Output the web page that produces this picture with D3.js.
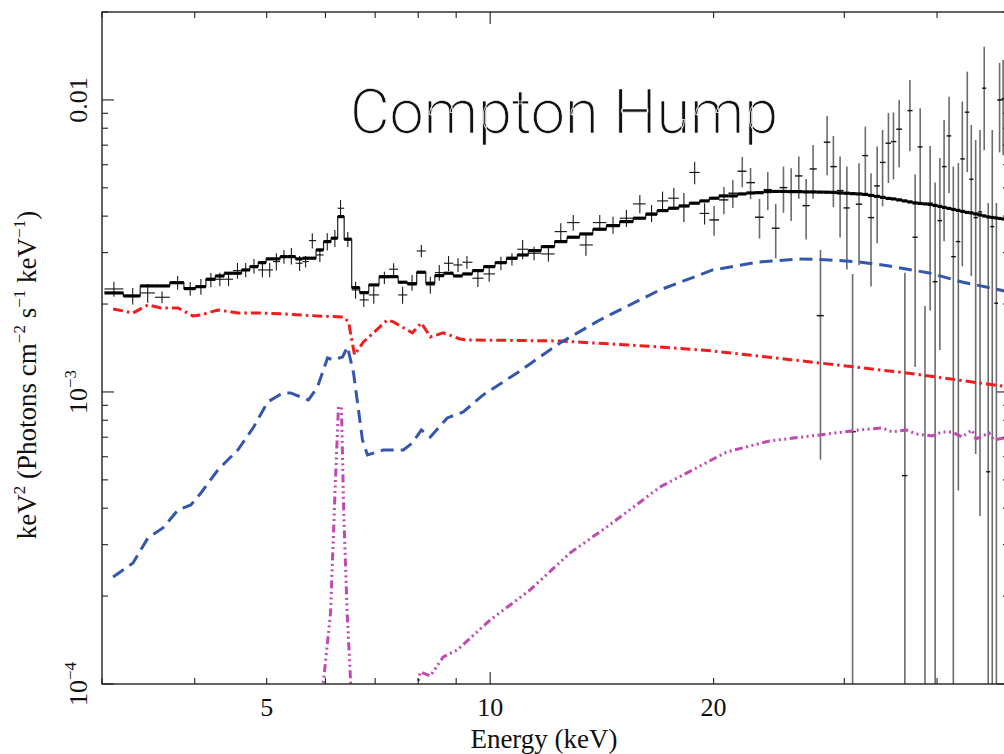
<!DOCTYPE html>
<html>
<head>
<meta charset="utf-8">
<script src="https://cdn.jsdelivr.net/npm/d3@7"></script>
<style>
  body { margin: 0; background: #fff; }
  svg { display: block; }
</style>
</head>
<body>
<svg id="chart" width="1004" height="754"></svg>
<script>
// ---- Spectrum data: bin centre energy (keV), E^2 F(E) flux with 1-sigma error, folded model ----
const dataEnergy = [
  3.113,3.300,3.457,3.614,3.793,3.944,4.077,4.205,4.324,4.442,
  4.567,4.685,4.807,4.934,5.047,5.152,5.275,5.398,5.538,5.642,
  5.760,5.897,6.033,6.178,6.287,6.431,6.587,6.757,6.970,7.203,
  7.413,7.622,7.849,8.078,8.306,8.540,8.790,9.052,9.305,9.627,
  9.97,10.34,10.70,11.06,11.46,11.98,12.45,12.94,13.46,14.05,
  14.64,15.26,15.91,16.50,17.07,17.68,18.24,18.86,19.45,20.03,
  20.65,21.23,21.86,22.43,23.06,23.66,24.25,24.84,25.44,26.05,
  26.65,27.23,27.86,28.44,29.00,29.61,30.24,30.78,31.40,32.02,
  32.59,33.22,33.78,34.40,34.94,35.56,36.20,36.77,37.37,37.96,
  38.53,39.15,39.76,40.35,40.88,41.52,42.07,42.73,43.26,43.93,
  44.48,45.09,45.70,46.30,46.88,47.47,48.08,48.56,49.10
];
const dataFlux = [
  2.253e-3,2.132e-3,2.183e-3,2.110e-3,2.367e-3,2.259e-3,2.294e-3,2.419e-3,2.432e-3,2.432e-3,
  2.603e-3,2.617e-3,2.701e-3,2.617e-3,2.617e-3,2.794e-3,2.906e-3,2.922e-3,2.759e-3,2.794e-3,
  3.298e-3,2.945e-3,3.272e-3,3.361e-3,4.257e-3,3.334e-3,2.235e-3,2.066e-3,2.149e-3,2.463e-3,
  2.632e-3,2.149e-3,2.367e-3,3.040e-3,2.325e-3,2.562e-3,2.759e-3,2.722e-3,2.781e-3,2.452e-3,
  2.536e-3,2.759e-3,2.848e-3,3.081e-3,2.985e-3,2.969e-3,3.540e-3,3.801e-3,3.187e-3,3.801e-3,
  3.732e-3,3.935e-3,4.405e-3,4.093e-3,4.510e-3,4.607e-3,4.311e-3,5.645e-3,4.087e-3,3.882e-3,
  4.546e-3,4.791e-3,5.699e-3,5.210e-3,3.966e-3,4.930e-3,3.636e-3,5.008e-3,4.841e-3,5.492e-3,
  4.345e-3,5.802e-3,1.825e-3,7.165e-3,5.910e-3,4.892e-3,4.267e-3,0.731e-3,4.394e-3,6.445e-3,
  3.954e-3,5.076e-3,6.109e-3,7.109e-3,7.200e-3,7.938e-3,0.517e-3,9.191e-3,3.387e-3,6.904e-3,
  0.050e-3,4.429e-3,2.386e-3,3.861e-3,5.910e-3,7.530e-3,2.906e-3,3.272e-3,6.280e-3,9.077e-3,
  5.351e-3,3.954e-3,4.135e-3,10.97e-3,0.533e-3,3.683e-3,2.013e-3,10.00e-3,10.08e-3
];
const dataError = [
  0.133e-3,0.139e-3,0.161e-3,0.096e-3,0.129e-3,0.122e-3,0.144e-3,0.137e-3,0.130e-3,0.130e-3,
  0.162e-3,0.148e-3,0.154e-3,0.148e-3,0.148e-3,0.191e-3,0.158e-3,0.190e-3,0.163e-3,0.128e-3,
  0.197e-3,0.160e-3,0.223e-3,0.226e-3,0.289e-3,0.197e-3,0.151e-3,0.112e-3,0.145e-3,0.119e-3,
  0.127e-3,0.145e-3,0.148e-3,0.147e-3,0.157e-3,0.160e-3,0.163e-3,0.149e-3,0.141e-3,0.165e-3,
  0.150e-3,0.147e-3,0.137e-3,0.235e-3,0.160e-3,0.176e-3,0.242e-3,0.237e-3,0.262e-3,0.237e-3,
  0.252e-3,0.266e-3,0.324e-3,0.276e-3,0.343e-3,0.389e-3,0.491e-3,0.501e-3,0.342e-3,0.453e-3,
  0.490e-3,0.530e-3,0.681e-3,0.639e-3,0.615e-3,0.737e-3,0.769e-3,0.902e-3,0.994e-3,0.903e-3,
  1.019e-3,1.213e-3,1.239e-3,1.649e-3,1.620e-3,1.513e-3,1.643e-3,1.805e-3,1.676e-3,1.657e-3,
  1.656e-3,1.845e-3,1.785e-3,1.917e-3,1.863e-3,2.062e-3,2.045e-3,2.520e-3,2.170e-3,2.464e-3,
  1.921e-3,2.530e-3,2.824e-3,2.469e-3,2.631e-3,2.730e-3,3.004e-3,2.812e-3,3.587e-3,3.420e-3,
  2.859e-3,3.341e-3,3.759e-3,4.250e-3,3.906e-3,4.211e-3,2.426e-3,3.390e-3,3.620e-3
];
const modelFlux = [
  2.183e-3,2.132e-3,2.307e-3,2.307e-3,2.367e-3,2.259e-3,2.294e-3,2.432e-3,2.496e-3,2.550e-3,
  2.550e-3,2.617e-3,2.686e-3,2.772e-3,2.855e-3,2.855e-3,2.906e-3,2.906e-3,2.855e-3,2.871e-3,
  2.871e-3,3.064e-3,3.272e-3,3.361e-3,3.984e-3,3.334e-3,2.276e-3,2.188e-3,2.325e-3,2.482e-3,
  2.482e-3,2.375e-3,2.344e-3,2.570e-3,2.356e-3,2.502e-3,2.550e-3,2.496e-3,2.536e-3,2.603e-3,
  2.686e-3,2.772e-3,2.871e-3,2.945e-3,3.047e-3,3.145e-3,3.272e-3,3.387e-3,3.476e-3,3.607e-3,
  3.711e-3,3.831e-3,3.935e-3,4.061e-3,4.178e-3,4.257e-3,4.335e-3,4.429e-3,4.510e-3,4.607e-3,
  4.691e-3,4.691e-3,4.765e-3,4.802e-3,4.813e-3,4.853e-3,4.860e-3,4.860e-3,4.853e-3,4.853e-3,
  4.841e-3,4.841e-3,4.834e-3,4.830e-3,4.823e-3,4.802e-3,4.791e-3,4.776e-3,4.765e-3,4.746e-3,
  4.709e-3,4.673e-3,4.637e-3,4.600e-3,4.581e-3,4.546e-3,4.510e-3,4.474e-3,4.439e-3,4.421e-3,
  4.405e-3,4.387e-3,4.352e-3,4.318e-3,4.284e-3,4.250e-3,4.217e-3,4.184e-3,4.151e-3,4.119e-3,
  4.102e-3,4.070e-3,4.038e-3,4.006e-3,3.974e-3,3.958e-3,3.943e-3,3.927e-3,3.911e-3
];

// ---- Model components ----
// primary continuum (red, dash-dot)
const continuumEnergy = [3.105,3.303,3.459,3.602,3.797,3.977,4.077,4.297,4.571,4.862,5.270,5.854,6.345,6.445,6.566,6.750,7.271,7.406,7.856,8.078,8.306,8.646,9.113,9.314,12.42,16.93,19.94,27.77,36.35,50];
const continuumFlux = [1.924e-3,1.865e-3,1.986e-3,1.940e-3,1.940e-3,1.821e-3,1.835e-3,1.909e-3,1.865e-3,1.865e-3,1.850e-3,1.821e-3,1.806e-3,1.737e-3,1.339e-3,1.483e-3,1.764e-3,1.737e-3,1.593e-3,1.723e-3,1.543e-3,1.593e-3,1.519e-3,1.507e-3,1.495e-3,1.426e-3,1.382e-3,1.257e-3,1.162e-3,1.040e-3];
// reflection / Compton hump (blue, dashed)
const reflectionEnergy = [3.105,3.303,3.459,3.624,3.797,3.952,4.077,4.297,4.571,4.802,5.015,5.254,5.385,5.692,5.854,6.039,6.152,6.326,6.425,6.546,6.730,6.834,7.181,7.640,7.856,8.078,8.306,8.754,9.199,9.786,10.87,12.42,14.05,16.93,19.94,23.06,26.10,28.64,31.42,34.48,39.02,43.22,50];
const reflectionFlux = [0.2325e-3,0.2597e-3,0.3162e-3,0.3422e-3,0.3943e-3,0.4102e-3,0.4509e-3,0.5405e-3,0.6328e-3,0.7587e-3,0.9242e-3,0.9921e-3,0.9921e-3,0.9389e-3,1.040e-3,1.307e-3,1.287e-3,1.318e-3,1.426e-3,1.162e-3,0.6847e-3,0.6085e-3,0.6328e-3,0.6328e-3,0.6689e-3,0.7411e-3,0.7013e-3,0.8146e-3,0.8542e-3,0.9766e-3,1.162e-3,1.472e-3,1.764e-3,2.235e-3,2.617e-3,2.788e-3,2.855e-3,2.832e-3,2.788e-3,2.701e-3,2.556e-3,2.381e-3,2.200e-3];
// distant reflector with Fe K line (magenta, dash-dot-dot-dot)
const distantEnergy = [5.928,6.095,6.189,6.247,6.305,6.350,6.418,6.505,7.116,7.905,8.053,8.306,8.646,9.031,10.0,11.32,12.81,14.36,16.06,16.93,18.74,20.82,23.79,27.77,31.42,33.74,34.80,36.35,37.49,39.39,40.62,41.89,43.22,44.58,45.13,46.99,47.72,50];
const distantFlux = [0.0882e-3,0.1751e-3,0.4995e-3,0.8884e-3,0.8884e-3,0.3851e-3,0.1751e-3,0.0882e-3,0.0549e-3,0.0882e-3,0.1100e-3,0.1065e-3,0.1238e-3,0.1308e-3,0.1656e-3,0.2099e-3,0.2810e-3,0.3449e-3,0.4267e-3,0.4727e-3,0.5405e-3,0.6230e-3,0.6796e-3,0.7125e-3,0.7411e-3,0.7527e-3,0.7294e-3,0.7411e-3,0.7181e-3,0.7069e-3,0.7294e-3,0.7294e-3,0.7013e-3,0.7411e-3,0.6903e-3,0.7237e-3,0.6847e-3,0.7013e-3];

// ---- Axes ----
const xDomain = [3, 50];
const yDomain = [1e-4, 0.02];
const xTickValues = [3, 4, 5, 6, 7, 8, 9, 10, 20, 30, 40, 50];
const xLabelValues = [5, 10, 20];
const xLabelTexts = ["5", "10", "20"];
const yTickValues = [1e-4,2e-4,3e-4,4e-4,5e-4,6e-4,7e-4,8e-4,9e-4,
                     1e-3,2e-3,3e-3,4e-3,5e-3,6e-3,7e-3,8e-3,9e-3,1e-2,2e-2];
const yLabelValues = [1e-4, 1e-3, 1e-2];
const yLabelBase = ["10", "10", "0.01"];
const yLabelExp = ["\u22124", "\u22123", ""];

const titleText = "Compton Hump";
const xTitle = "Energy (keV)";

// ---- Layout ----
const plot = { left: 102, right: 1009, top: 12, bottom: 684 };
const serif = "'Liberation Serif', 'Times New Roman', Times, serif";

const svg = d3.select("#chart");
const x = d3.scaleLog().domain(xDomain).range([plot.left, plot.right]);
const y = d3.scaleLog().domain(yDomain).range([plot.bottom, plot.top]);
const yc = v => y(Math.max(v, 1e-7));

svg.append("defs").append("clipPath").attr("id", "plotClip")
  .append("rect")
  .attr("x", plot.left).attr("y", plot.top)
  .attr("width", plot.right - plot.left).attr("height", plot.bottom - plot.top);

const inner = svg.append("g").attr("clip-path", "url(#plotClip)");

// bin edges at geometric midpoints between centres
const n = dataEnergy.length;
const edges = d3.range(n - 1).map(i => Math.sqrt(dataEnergy[i] * dataEnergy[i + 1]));
const binLo = dataEnergy.map((e, i) => i === 0 ? e * e / edges[0] : edges[i - 1]);
const binHi = dataEnergy.map((e, i) => i === n - 1 ? e * e / edges[n - 2] : edges[i]);

// ---- data crosses ----
const hardBand = 19.5; // keV; lighter error bars above this
const points = d3.range(n);
const dataG = inner.append("g");
dataG.selectAll("line.err")
  .data(points).join("line")
  .attr("class", "err")
  .attr("x1", i => x(dataEnergy[i])).attr("x2", i => x(dataEnergy[i]))
  .attr("y1", i => yc(dataFlux[i] + dataError[i]))
  .attr("y2", i => yc(dataFlux[i] - dataError[i]))
  .attr("stroke", i => dataEnergy[i] > hardBand ? "#6c6c6c" : "#1a1a1a")
  .attr("stroke-width", i => dataEnergy[i] > hardBand ? 1.6 : 1.1);
dataG.selectAll("line.bin")
  .data(points).join("line")
  .attr("class", "bin")
  .attr("x1", i => x(binLo[i])).attr("x2", i => x(binHi[i]))
  .attr("y1", i => yc(dataFlux[i])).attr("y2", i => yc(dataFlux[i]))
  .attr("stroke", "#111")
  .attr("stroke-width", i => dataEnergy[i] > hardBand ? 1.4 : 1.1);

// ---- folded model as histogram ----
const stepPts = d3.range(n).flatMap(i => [[binLo[i], modelFlux[i]], [binHi[i], modelFlux[i]]]);
const lineGen = d3.line().x(d => x(d[0])).y(d => yc(d[1]));
inner.append("path")
  .attr("d", lineGen(stepPts))
  .attr("fill", "none").attr("stroke", "#222").attr("stroke-width", 1.2);
inner.append("g").selectAll("line")
  .data(points).join("line")
  .attr("x1", i => x(binLo[i])).attr("x2", i => x(binHi[i]))
  .attr("y1", i => y(modelFlux[i])).attr("y2", i => y(modelFlux[i]))
  .attr("stroke", "#000").attr("stroke-width", 3.2);

// ---- components ----
const comps = [
  { e: continuumEnergy, f: continuumFlux, color: "#f01e1e", dash: "10,4,2.5,4" },
  { e: reflectionEnergy, f: reflectionFlux, color: "#3456ac", dash: "13,7" },
  { e: distantEnergy, f: distantFlux, color: "#c04ab0", dash: "8,3.5,2,3.5,2,3.5,2,3.5" }
];
comps.forEach(c => {
  inner.append("path")
    .attr("d", lineGen(c.e.map((e, i) => [e, c.f[i]])))
    .attr("fill", "none")
    .attr("stroke", c.color)
    .attr("stroke-width", 3)
    .attr("stroke-dasharray", c.dash);
});

// ---- frame and ticks ----
const axisG = svg.append("g");
axisG.append("rect")
  .attr("x", plot.left).attr("y", plot.top)
  .attr("width", plot.right - plot.left).attr("height", plot.bottom - plot.top)
  .attr("fill", "none").attr("stroke", "#222").attr("stroke-width", 1.4);

const isDecade = v => Math.abs(Math.log10(v) - Math.round(Math.log10(v))) < 1e-6;
xTickValues.forEach(v => {
  const len = isDecade(v) ? 12 : 6;
  const px = x(v);
  axisG.append("line").attr("x1", px).attr("x2", px)
    .attr("y1", plot.bottom).attr("y2", plot.bottom - len)
    .attr("stroke", "#222").attr("stroke-width", 1.1);
  axisG.append("line").attr("x1", px).attr("x2", px)
    .attr("y1", plot.top).attr("y2", plot.top + len)
    .attr("stroke", "#222").attr("stroke-width", 1.1);
});
yTickValues.forEach(v => {
  const len = isDecade(v) ? 12 : 6;
  const py = y(v);
  axisG.append("line").attr("x1", plot.left).attr("x2", plot.left + len)
    .attr("y1", py).attr("y2", py)
    .attr("stroke", "#222").attr("stroke-width", 1.1);
  axisG.append("line").attr("x1", plot.right).attr("x2", plot.right - len)
    .attr("y1", py).attr("y2", py)
    .attr("stroke", "#222").attr("stroke-width", 1.1);
});

// x tick labels
xLabelValues.forEach((v, i) => {
  svg.append("text")
    .attr("x", x(v)).attr("y", 716)
    .attr("text-anchor", "middle")
    .attr("font-family", serif).attr("font-size", 26).attr("fill", "#111")
    .text(xLabelTexts[i]);
});

// y tick labels (rotated)
yLabelValues.forEach((v, i) => {
  const t = svg.append("text")
    .attr("transform", `translate(87,${y(v)}) rotate(-90)`)
    .attr("text-anchor", "middle")
    .attr("font-family", serif).attr("font-size", 26).attr("fill", "#111");
  t.append("tspan").text(yLabelBase[i]);
  if (yLabelExp[i]) {
    t.append("tspan").attr("font-size", 17).attr("dy", -11).text(yLabelExp[i]);
  }
});

// axis titles
svg.append("text")
  .attr("x", 544).attr("y", 748)
  .attr("text-anchor", "middle")
  .attr("font-family", serif).attr("font-size", 27).attr("fill", "#111")
  .text(xTitle);

const yt = svg.append("text")
  .attr("transform", "translate(36,375) rotate(-90)")
  .attr("text-anchor", "middle")
  .attr("font-family", serif).attr("font-size", 27).attr("fill", "#111");
const yParts = [
  ["keV", 0], ["2", 1], [" (Photons cm", 0], ["\u22122", 1], [" s", 0],
  ["\u22121", 1], [" keV", 0], ["\u22121", 1], [")", 0]
];
let raised = false;
yParts.forEach(([s, sup]) => {
  const ts = yt.append("tspan").text(s);
  if (sup) {
    ts.attr("font-size", 17).attr("dy", raised ? 0 : -11);
    raised = true;
  } else if (raised) {
    ts.attr("dy", 11);
    raised = false;
  }
});

// chart title, thin sans
svg.append("text")
  .attr("x", 350).attr("y", 133)
  .attr("font-family", "'Helvetica Neue', Roboto, 'Open Sans', Lato, sans-serif")
  .attr("font-weight", 300)
  .attr("font-size", 61)
  .attr("fill", "#111")
  .attr("stroke", "#fff")
  .attr("stroke-width", 0.7)
  .text(titleText);
</script>
</body>
</html>
